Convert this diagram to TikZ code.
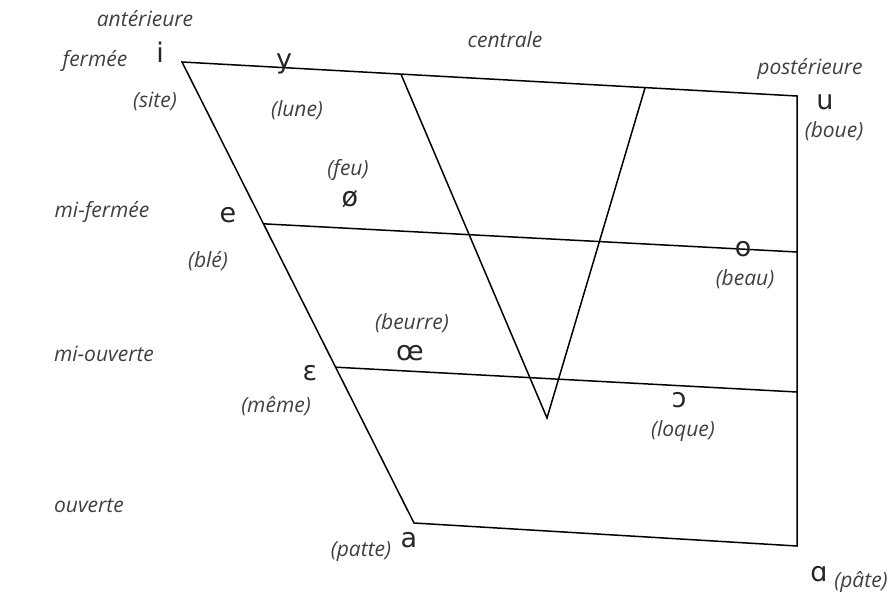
\documentclass[tikz,border=0pt]{standalone}
\usepackage{fontspec}
\setmainfont{Open Sans}
\newfontfamily\ipafont{DejaVu Sans}
\usetikzlibrary{calc}

\begin{document}
\begin{tikzpicture}[
    x=1pt, y=-1pt,
    line width=1.5pt,
    tag/.style={font=\fontsize{21}{23}\selectfont\itshape, text=black!75, inner sep=0pt},
    vowel/.style={font=\ipafont\fontsize{27}{29}\selectfont, text=black!85, inner sep=0pt}
]
\useasboundingbox (0,0) rectangle (890,599);

% Corners of the trapezoid
\coordinate (ci) at (182,62);
\coordinate (cu) at (797,96);
\coordinate (cpa) at (797,546);
\coordinate (ca) at (414,523);

\draw (ci) -- (cu) -- (cpa) -- (ca) -- cycle;

% Mid lines
\coordinate (me) at ($(ci)!0.351!(ca)$);
\coordinate (mo) at (797,252);
\coordinate (ouv) at ($(ci)!0.662!(ca)$);
\coordinate (oo) at (797,392);
\draw (me) -- (mo);
\draw (ouv) -- (oo);

% Central V
\coordinate (vl) at ($(ci)!0.356!(cu)$);
\coordinate (vr) at ($(ci)!0.753!(cu)$);
\coordinate (vb) at (547,418);
\draw (vl) -- (vb) -- (vr);

% Axis labels
\node[tag] (ant) at (145,19)  {antérieure};
\node[tag] (cen) at (505,40)  {centrale};
\node[tag] (post) at (810,69) {postérieure};
\node[tag] (ferm) at (95,61)   {fermée};
\node[tag] (mfer) at (102,212) {mi-fermée};
\node[tag] (mouv) at (104,354) {mi-ouverte};
\node[tag] (ouvt) at (89,506)  {ouverte};

% Vowels and examples
\node[vowel] (vi) at (160,52)  {i};
\node[tag]   (wi) at (155,101) {(site)};
\node[vowel] (vy) at (284,64)  {y};
\node[tag]   (wy) at (297,110) {(lune)};
\node[vowel] (vu) at (825,102) {u};
\node[tag]   (wu) at (834,131) {(boue)};
\node[tag]   (wo2) at (348,170) {(feu)};
\node[vowel] (vo2) at (350,199) {ø};
\node[vowel] (ve) at (228,215) {e};
\node[tag]   (we) at (208,261) {(blé)};
\node[vowel] (vo) at (743,249) {o};
\node[tag]   (wo) at (745,279) {(beau)};
\node[tag]   (woe) at (412,323) {(beurre)};
\node[vowel] (voe) at (410,353) {œ};
\node[vowel] (veps) at (310,373) {ɛ};
\node[tag]   (weps) at (276,406) {(même)};
\node[vowel] (vc) at (679,400) {ɔ};
\node[tag]   (wc) at (683,431) {(loque)};
\node[tag]   (wa) at (361,552) {(patte)};
\node[vowel] (va) at (409,540) {a};
\node[vowel] (vaa) at (819,574) {ɑ};
\node[tag]   (waa) at (861,582) {(pâte)};

\end{tikzpicture}
\end{document}
